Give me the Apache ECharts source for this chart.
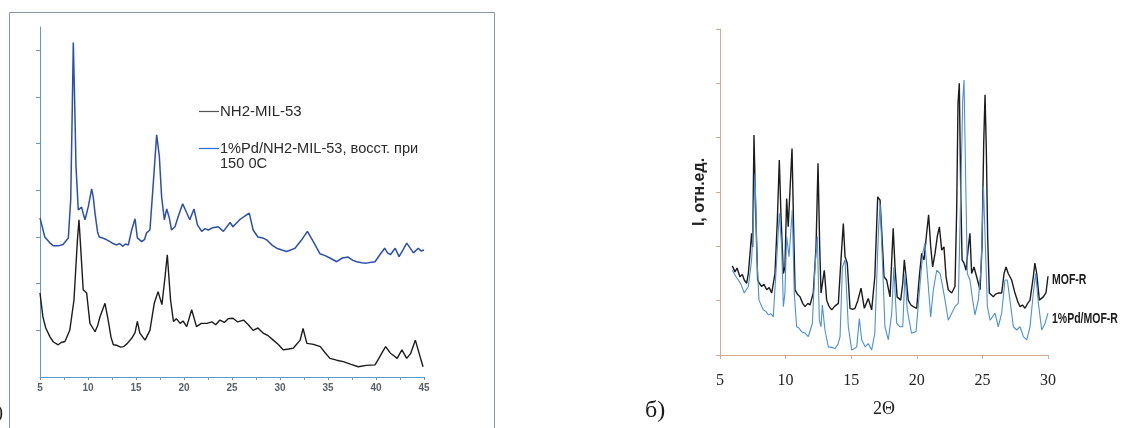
<!DOCTYPE html>
<html><head><meta charset="utf-8">
<script src="https://cdn.jsdelivr.net/npm/echarts@6/dist/echarts.min.js"></script>
<style>html,body{margin:0;padding:0;background:#fff}#c{width:1121px;height:428px}</style>
</head><body><div id="c"></div>
<script>
// ---- Panel (a): NH2-MIL-53 ----
const leftXTicks = [5, 10, 15, 20, 25, 30, 35, 40, 45];
const leftYTicks = [1, 2, 3, 4, 5, 6, 7];
const leftNames = ['NH2-MIL-53', '1%Pd/NH2-MIL-53, восст. при\n150 0С'];
const leftBlue = [[5,3.41],[5.5,3.0],[6.0,2.88],[6.4,2.81],[6.9,2.81],[7.4,2.84],[7.95,2.98],[8.2,3.8],[8.35,5.6],[8.47,7.17],[8.6,6.0],[8.75,4.51],[8.99,3.58],[9.34,3.64],[9.5,3.5],[9.69,3.37],[10.03,3.65],[10.38,4.03],[10.55,3.85],[10.73,3.51],[11.0,3.1],[11.18,3.0],[11.5,2.98],[11.95,2.94],[12.3,2.9],[12.6,2.86],[13.0,2.83],[13.3,2.86],[13.6,2.8],[13.9,2.85],[14.2,2.83],[14.55,3.15],[14.9,3.39],[15.14,2.98],[15.6,2.9],[15.9,2.95],[16.1,3.09],[16.45,3.15],[16.8,4.15],[17.15,5.19],[17.43,4.73],[17.67,3.86],[17.95,3.37],[18.2,3.6],[18.47,3.41],[18.7,3.15],[19.06,3.22],[19.4,3.44],[19.86,3.71],[20.28,3.52],[20.6,3.37],[21.04,3.6],[21.4,3.26],[21.84,3.12],[22.2,3.18],[22.53,3.15],[23.0,3.2],[23.57,3.22],[24.1,3.12],[24.8,3.31],[25.1,3.22],[25.8,3.37],[26.35,3.45],[26.8,3.51],[27.2,3.15],[27.7,3.0],[28.2,2.98],[28.6,2.94],[29.2,2.82],[29.65,2.76],[30.2,2.72],[30.7,2.69],[31.1,2.72],[31.56,2.76],[32.26,2.94],[32.85,3.12],[33.47,2.9],[34.17,2.64],[34.7,2.6],[35.2,2.55],[35.9,2.47],[36.5,2.55],[37.1,2.57],[37.6,2.5],[38.0,2.47],[38.5,2.45],[39.0,2.44],[39.5,2.46],[39.9,2.47],[40.4,2.62],[40.9,2.76],[41.2,2.66],[41.5,2.62],[42.0,2.76],[42.4,2.58],[42.8,2.72],[43.2,2.87],[43.6,2.75],[43.9,2.66],[44.4,2.76],[44.7,2.7],[45,2.72]];
const leftBlack = [[5,1.8],[5.3,1.29],[5.6,1.05],[6.04,0.86],[6.4,0.75],[6.9,0.69],[7.2,0.74],[7.6,0.76],[8.1,1.0],[8.54,1.65],[8.9,2.94],[9.06,3.37],[9.27,2.66],[9.5,1.87],[9.86,1.8],[10.2,1.15],[10.5,1.05],[10.73,0.97],[11.0,1.1],[11.25,1.29],[11.77,1.58],[12.1,1.22],[12.4,0.85],[12.64,0.69],[13.0,0.68],[13.4,0.64],[13.7,0.65],[14.1,0.72],[14.55,0.83],[14.9,0.95],[15.14,1.19],[15.4,0.94],[15.94,0.79],[16.45,1.0],[16.9,1.58],[17.3,1.83],[17.7,1.55],[18.0,2.1],[18.26,2.62],[18.6,1.65],[18.9,1.19],[19.2,1.25],[19.6,1.15],[19.9,1.2],[20.28,1.08],[20.8,1.44],[21.3,1.08],[21.8,1.15],[22.4,1.15],[22.9,1.18],[23.3,1.12],[23.75,1.22],[24.2,1.17],[24.6,1.25],[25.1,1.26],[25.6,1.18],[26.2,1.22],[26.7,1.12],[27.2,1.0],[27.7,1.05],[28.26,0.94],[28.8,0.88],[29.3,0.79],[29.8,0.7],[30.35,0.58],[30.9,0.6],[31.4,0.62],[32.1,0.79],[32.4,1.04],[32.8,0.72],[33.5,0.7],[34.2,0.65],[34.7,0.52],[35.2,0.4],[35.9,0.36],[36.6,0.33],[37.4,0.27],[38.15,0.22],[39.0,0.25],[39.9,0.26],[40.3,0.4],[40.6,0.51],[41.0,0.65],[41.5,0.51],[41.9,0.45],[42.2,0.4],[42.7,0.58],[43.2,0.4],[43.6,0.5],[44.1,0.79],[44.5,0.5],[44.9,0.22]];

// ---- Panel (б): MOF-R ----
const rightNames = ['MOF-R', '1%Pd/MOF-R'];
const rightAxisNames = ['2Θ', 'I, отн.ед.'];
const rightBlack = [[5.94,1.64],[6.14,1.53],[6.3,1.6],[6.52,1.44],[6.7,1.48],[6.85,1.38],[7.03,1.32],[7.16,1.5],[7.29,1.87],[7.41,2.24],[7.49,1.99],[7.59,4.05],[7.72,2.67],[7.87,1.38],[8.0,1.32],[8.18,1.26],[8.35,1.3],[8.56,1.2],[8.75,1.24],[8.94,1.14],[9.19,1.5],[9.37,2.48],[9.52,3.59],[9.65,2.55],[9.83,1.5],[9.95,1.62],[10.08,2.88],[10.2,2.36],[10.33,2.36],[10.49,3.8],[10.61,2.36],[10.72,1.2],[10.9,1.12],[11.1,1.07],[11.3,0.95],[11.48,0.89],[11.7,0.95],[11.86,0.92],[12.11,1.14],[12.32,1.99],[12.47,3.53],[12.6,1.99],[12.7,1.14],[12.95,1.56],[13.13,1.01],[13.3,0.9],[13.51,0.83],[13.75,0.9],[14.02,0.95],[14.22,1.75],[14.4,2.42],[14.53,1.81],[14.7,1.69],[14.91,0.86],[15.1,0.84],[15.29,0.86],[15.5,1.0],[15.75,1.23],[16.0,0.86],[16.15,0.95],[16.3,1.04],[16.56,0.83],[16.8,1.44],[17.02,2.91],[17.2,2.85],[17.4,1.93],[17.5,1.44],[17.7,1.38],[17.96,1.07],[18.09,1.75],[18.2,2.33],[18.34,1.62],[18.5,1.07],[18.77,1.01],[18.93,1.32],[19.05,1.75],[19.18,1.44],[19.35,1.01],[19.55,0.92],[19.73,0.89],[19.99,0.86],[20.19,1.44],[20.37,1.87],[20.55,1.75],[20.75,2.24],[20.9,2.58],[21.06,1.99],[21.21,1.62],[21.39,1.87],[21.56,2.18],[21.72,2.36],[21.9,1.93],[22.07,1.99],[22.23,1.44],[22.4,1.2],[22.66,1.14],[22.91,1.26],[23.04,2.67],[23.14,4.63],[23.24,5.0],[23.35,2.98],[23.45,1.75],[23.6,1.69],[23.75,1.56],[23.93,1.99],[24.05,2.24],[24.18,1.5],[24.36,1.62],[24.56,1.44],[24.82,1.2],[24.97,1.99],[25.1,3.9],[25.2,4.79],[25.3,3.77],[25.4,2.18],[25.53,1.14],[25.83,1.07],[26.0,1.12],[26.21,1.14],[26.47,1.14],[26.65,1.5],[26.8,1.62],[26.97,1.5],[27.23,1.38],[27.48,1.14],[27.7,0.98],[27.87,0.89],[28.05,0.92],[28.25,0.86],[28.45,0.95],[28.63,1.01],[28.88,1.44],[29.0,1.69],[29.14,1.5],[29.34,1.01],[29.64,1.07],[29.85,1.15],[30,1.45]];
const rightBlue = [[5.94,1.56],[6.2,1.45],[6.4,1.38],[6.6,1.3],[6.85,1.14],[7.0,1.2],[7.16,1.26],[7.41,1.75],[7.55,2.5],[7.67,3.34],[7.82,1.75],[7.97,1.01],[8.3,0.83],[8.5,0.8],[8.69,0.74],[8.9,0.76],[9.06,0.7],[9.32,1.75],[9.52,2.61],[9.7,1.99],[9.83,0.89],[9.95,1.14],[10.08,2.18],[10.26,1.81],[10.51,2.67],[10.66,1.14],[10.84,0.52],[11.0,0.5],[11.22,0.43],[11.5,0.4],[11.73,0.34],[12.04,0.58],[12.24,1.62],[12.42,2.18],[12.57,0.64],[12.7,0.52],[12.8,0.92],[13.0,0.46],[13.26,0.15],[13.5,0.14],[13.77,0.12],[14.0,0.2],[14.15,0.34],[14.33,1.62],[14.53,1.75],[14.78,0.52],[15.04,0.09],[15.25,0.12],[15.42,0.15],[15.62,0.67],[15.8,0.28],[16.06,0.15],[16.3,0.21],[16.56,0.09],[16.8,0.4],[17.07,2.24],[17.2,2.79],[17.4,1.62],[17.57,0.52],[17.83,0.28],[18.09,0.77],[18.25,1.62],[18.47,0.58],[18.7,0.52],[18.93,0.52],[19.1,1.5],[19.27,0.83],[19.6,0.4],[19.94,0.43],[20.19,1.14],[20.45,1.87],[20.62,2.06],[20.88,1.26],[21.06,0.7],[21.26,1.2],[21.52,1.56],[21.77,1.5],[21.97,1.26],[22.15,1.01],[22.4,0.64],[22.66,0.77],[22.91,0.89],[23.16,0.95],[23.35,2.98],[23.5,4.69],[23.6,5.06],[23.7,3.59],[23.85,1.5],[24.05,1.38],[24.26,1.01],[24.43,0.74],[24.69,1.01],[24.9,1.62],[25.08,3.1],[25.23,1.99],[25.38,0.89],[25.59,0.64],[25.96,0.77],[26.21,0.52],[26.47,0.77],[26.72,1.38],[26.9,1.38],[27.1,1.01],[27.36,0.52],[27.61,0.46],[27.87,0.52],[28.12,0.34],[28.38,0.28],[28.63,0.52],[28.88,1.14],[29.06,1.5],[29.27,0.95],[29.52,0.46],[29.77,0.58],[30.0,0.77]];

const chart = echarts.init(document.getElementById('c'), null, {renderer: 'canvas'});
const leftAxisColor = '#5b9bc8';
const rightAxisColor = '#d4aa8c';
const sansF = '"Liberation Sans", Arial, sans-serif';
const serifF = '"Liberation Serif", "Times New Roman", serif';

chart.setOption({
  animation: false,
  backgroundColor: '#ffffff',
  grid: [
    {left: 40, top: 27, width: 384, height: 350},
    {left: 720, top: 29, width: 328, height: 326}
  ],
  xAxis: [
    {gridIndex: 0, type: 'value', min: 5, max: 45, interval: 5,
     axisLine: {lineStyle: {color: leftAxisColor, width: 1}},
     axisTick: {show: true, length: 3, lineStyle: {color: leftAxisColor}},
     minorTick: {show: true, splitNumber: 2, length: 3, lineStyle: {color: leftAxisColor}},
     splitLine: {show: false},
     axisLabel: {color: '#5a6068', fontSize: 10, fontFamily: sansF, fontWeight: 'bold', margin: 6,
       customValues: leftXTicks}},
    {gridIndex: 1, type: 'value', min: 5, max: 30, interval: 5,
     axisLine: {lineStyle: {color: rightAxisColor, width: 1}},
     axisTick: {show: true, length: 4, lineStyle: {color: rightAxisColor}},
     splitLine: {show: false},
     name: rightAxisNames[0], nameLocation: 'middle', nameGap: 45,
     nameTextStyle: {color: '#222', fontSize: 18, fontFamily: serifF},
     axisLabel: {color: '#222', fontSize: 16, fontFamily: serifF, margin: 18}}
  ],
  yAxis: [
    {gridIndex: 0, type: 'value', min: 0, max: 7.5,
     axisLine: {show: true, lineStyle: {color: leftAxisColor, width: 1}},
     axisTick: {show: true, length: 4, customValues: leftYTicks, lineStyle: {color: leftAxisColor}},
     splitLine: {show: false},
     axisLabel: {show: false}},
    {gridIndex: 1, type: 'value', min: 0, max: 6, interval: 1,
     axisLine: {show: true, lineStyle: {color: rightAxisColor, width: 1}},
     axisTick: {show: true, length: 4, lineStyle: {color: rightAxisColor}},
     splitLine: {show: false},
     axisLabel: {show: false},
     name: rightAxisNames[1], nameLocation: 'middle', nameGap: 12, nameRotate: 90,
     nameTextStyle: {color: '#222', fontSize: 16, fontFamily: sansF, fontWeight: 'bold'}}
  ],
  series: [
    {name: leftNames[0], type: 'line', xAxisIndex: 0, yAxisIndex: 0, data: leftBlack,
     showSymbol: false, lineStyle: {color: '#1c1c1c', width: 1.4}},
    {name: leftNames[1], type: 'line', xAxisIndex: 0, yAxisIndex: 0, data: leftBlue,
     showSymbol: false, lineStyle: {color: '#2a4fae', width: 1.5}},
    {name: rightNames[0], type: 'line', xAxisIndex: 1, yAxisIndex: 1, data: rightBlack,
     showSymbol: false, lineStyle: {color: '#1c1c1c', width: 1.4}},
    {name: rightNames[1], type: 'line', xAxisIndex: 1, yAxisIndex: 1, data: rightBlue,
     showSymbol: false, lineStyle: {color: '#4a90da', width: 1.1}}
  ],
  graphic: [
    {type: 'rect', shape: {x: 9.5, y: 12.5, width: 485, height: 440},
     style: {fill: 'none', stroke: '#8497a6', lineWidth: 1}, z: -1},
    {type: 'line', shape: {x1: 199, y1: 111.5, x2: 219, y2: 111.5}, style: {stroke: '#555', lineWidth: 1.2}},
    {type: 'text', x: 220, y: 112, style: {text: leftNames[0], fill: '#2a2a2a', font: '15px ' + sansF, verticalAlign: 'middle'}},
    {type: 'line', shape: {x1: 199, y1: 148.5, x2: 219, y2: 148.5}, style: {stroke: '#2a6fd0', lineWidth: 1.2}},
    {type: 'text', x: 220, y: 141, style: {text: leftNames[1], fill: '#2a2a2a', font: '14.6px ' + sansF, lineHeight: 15, verticalAlign: 'top'}},
    {type: 'text', x: 1052, y: 280, scaleX: 0.7, style: {text: rightNames[0], fill: '#1a1a1a', font: 'bold 15px ' + sansF, verticalAlign: 'middle'}},
    {type: 'text', x: 1052, y: 319, scaleX: 0.7, style: {text: rightNames[1], fill: '#1a1a1a', font: 'bold 15px ' + sansF, verticalAlign: 'middle'}},
    {type: 'text', x: 645, y: 411, style: {text: 'б)', fill: '#1a1a1a', font: '24px ' + serifF, verticalAlign: 'middle'}},
    {type: 'text', x: -11, y: 413, style: {text: 'а)', fill: '#1a1a1a', font: '18px ' + serifF, verticalAlign: 'middle'}}
  ]
});
</script>
</body></html>
